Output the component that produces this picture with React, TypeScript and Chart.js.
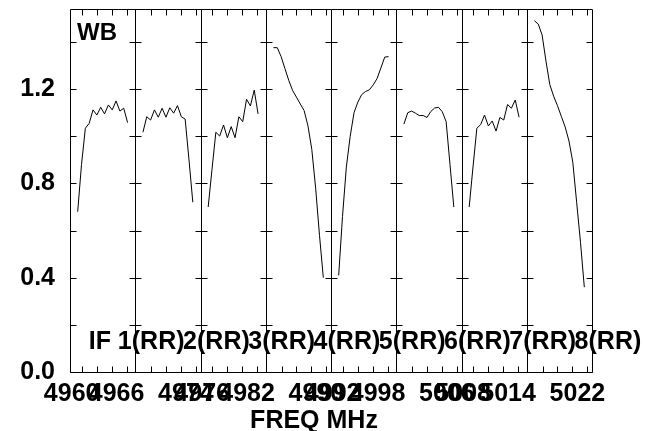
import React, { useEffect, useRef } from 'react';
import { Chart, registerables } from 'chart.js';

Chart.register(...registerables);

// ---- text ----
const SOURCE_NAME = 'WB';
const X_TITLE = 'FREQ MHz';
const STOKES = 'RR';
const IF_NAMES = ['1', '2', '3', '4', '5', '6', '7', '8'];

// ---- amplitude per plotted channel (channels 2..15) for each IF ----
const IF1_AMP = [0.68, 0.88, 1.034, 1.055, 1.112, 1.09, 1.123, 1.095, 1.133, 1.112, 1.15, 1.107, 1.119, 1.058];
const IF2_AMP = [1.017, 1.083, 1.069, 1.112, 1.081, 1.119, 1.081, 1.121, 1.098, 1.13, 1.083, 1.073, 0.9, 0.72];
const IF3_AMP = [0.7, 0.86, 1.017, 1.001, 1.048, 0.994, 1.041, 0.994, 1.083, 1.062, 1.157, 1.129, 1.196, 1.095];
const IF4_AMP = [1.376, 1.376, 1.338, 1.287, 1.237, 1.194, 1.166, 1.137, 1.109, 1.044, 0.944, 0.78, 0.58, 0.4];
const IF5_AMP = [0.41, 0.66, 0.87, 1.0, 1.1, 1.145, 1.177, 1.19, 1.197, 1.218, 1.245, 1.29, 1.336, 1.338];
const IF6_AMP = [1.052, 1.1, 1.107, 1.098, 1.088, 1.088, 1.08, 1.105, 1.12, 1.123, 1.104, 1.062, 0.88, 0.7];
const IF7_AMP = [0.7, 0.87, 1.034, 1.05, 1.09, 1.044, 1.065, 1.022, 1.08, 1.069, 1.135, 1.119, 1.154, 1.081];
const IF8_AMP = [1.49, 1.476, 1.43, 1.32, 1.22, 1.17, 1.13, 1.085, 1.04, 0.98, 0.89, 0.72, 0.55, 0.36];
const IF_AMPS = [IF1_AMP, IF2_AMP, IF3_AMP, IF4_AMP, IF5_AMP, IF6_AMP, IF7_AMP, IF8_AMP];

// ---- frequency axis ----
const FIRST_CHANNEL = 2;          // first plotted channel in every IF
const CHANNELS_PER_PANEL = 17;    // channel slots shown per IF panel
const CHANNEL_MHZ = 0.5128;       // channel separation
const IF_FIRST_CHAN_MHZ = [4959.47, 4966.92, 4975.47, 4982.92, 4991.47, 4998.92, 5007.47, 5014.92];
const IF_TICK_MHZ = [
  [4960, 4962, 4964, 4966],
  [4968, 4970, 4972, 4974],
  [4976, 4978, 4980, 4982],
  [4984, 4986, 4988, 4990],
  [4992, 4994, 4996, 4998],
  [5000, 5002, 5004, 5006],
  [5008, 5010, 5012, 5014],
  [5016, 5018, 5020, 5022],
];
const IF_LABEL_MHZ = [[4960, 4966], [4974], [4976, 4982], [4990], [4992, 4998], [5006], [5008, 5014], [5022]];

// ---- amplitude axis ----
const Y_MIN = 0;
const Y_MAX = 1.54;
const Y_TICKS = [0, 0.2, 0.4, 0.6, 0.8, 1.0, 1.2, 1.4];
const Y_LABELED = [0, 0.4, 0.8, 1.2];

const FONT_FAMILY = '"Liberation Sans", Arial, Helvetica, sans-serif';

function freqToX(ifIndex: number, mhz: number): number {
  return ifIndex * CHANNELS_PER_PANEL + FIRST_CHANNEL + (mhz - IF_FIRST_CHAN_MHZ[ifIndex]) / CHANNEL_MHZ;
}

const LABEL_TICKS: { value: number; text: string }[] = [];
IF_LABEL_MHZ.forEach((list, k) => list.forEach((f) => LABEL_TICKS.push({ value: freqToX(k, f), text: String(f) })));
LABEL_TICKS.sort((a, b) => a.value - b.value);

const overlayPlugin = {
  id: 'possmOverlay',
  afterDraw(chart: any) {
    const { ctx, chartArea: a, scales } = chart;
    const xs = scales.x;
    const ys = scales.y;
    const snap = (v: number) => Math.round(v) + 0.5;
    const nPanels = IF_AMPS.length;
    const yTick = 6;
    const xTick = 6;

    ctx.save();
    ctx.strokeStyle = '#000';
    ctx.lineWidth = 1;
    ctx.beginPath();
    const L = snap(a.left), R = snap(a.right), T = snap(a.top), B = snap(a.bottom);
    ctx.moveTo(L, T); ctx.lineTo(R, T); ctx.lineTo(R, B); ctx.lineTo(L, B); ctx.closePath();
    for (let k = 1; k < nPanels; k++) {
      const bx = snap(xs.getPixelForValue(k * CHANNELS_PER_PANEL));
      ctx.moveTo(bx, T); ctx.lineTo(bx, B);
    }
    for (const v of Y_TICKS) {
      const y = snap(ys.getPixelForValue(v));
      for (let k = 0; k <= nPanels; k++) {
        const bx = snap(xs.getPixelForValue(k * CHANNELS_PER_PANEL));
        const l = k === 0 ? 0 : yTick;
        const r = k === nPanels ? 0 : yTick;
        ctx.moveTo(bx - l, y); ctx.lineTo(bx + r, y);
      }
    }
    IF_TICK_MHZ.forEach((list, k) => list.forEach((f) => {
      const x = snap(xs.getPixelForValue(freqToX(k, f)));
      ctx.moveTo(x, T); ctx.lineTo(x, T + xTick);
      ctx.moveTo(x, B); ctx.lineTo(x, B - xTick);
    }));
    ctx.stroke();

    ctx.fillStyle = '#000';
    ctx.font = `bold 24px ${FONT_FAMILY}`;
    ctx.textBaseline = 'alphabetic';
    ctx.textAlign = 'left';
    ctx.fillText(SOURCE_NAME, a.left + 7, a.top + 31);

    const ifBase = a.bottom - 23;
    ctx.font = `bold 25px ${FONT_FAMILY}`;
    for (let k = 0; k < nPanels; k++) {
      const bx = xs.getPixelForValue((k + 1) * CHANNELS_PER_PANEL) - 3.5;
      ctx.textAlign = 'right';
      ctx.fillText(k === 0 ? `IF ${IF_NAMES[k]}` : IF_NAMES[k], bx, ifBase);
      ctx.textAlign = 'left';
      ctx.fillText(`(${STOKES})`, bx, ifBase);
    }

    ctx.textAlign = 'center';
    ctx.fillText(X_TITLE, (a.left + a.right) / 2 - 17, chart.height - 3);
    ctx.restore();
  },
};

export default function App() {
  const canvasRef = useRef<HTMLCanvasElement | null>(null);

  useEffect(() => {
    const canvas = canvasRef.current;
    if (!canvas) return;
    const datasets = IF_AMPS.map((amps, k) => ({
      label: `IF ${IF_NAMES[k]}`,
      data: amps.map((v, i) => ({ x: k * CHANNELS_PER_PANEL + FIRST_CHANNEL + i, y: v })),
      borderColor: '#000',
      borderWidth: 1,
      pointRadius: 0,
      tension: 0,
      fill: false,
    }));

    const chart = new Chart(canvas, {
      type: 'line',
      data: { datasets },
      options: {
        responsive: false,
        animation: false,
        devicePixelRatio: 1,
        layout: { padding: { left: 0, right: 55, top: 9, bottom: 0 } },
        plugins: { legend: { display: false }, tooltip: { enabled: false }, title: { display: false } },
        scales: {
          x: {
            type: 'linear',
            min: 0,
            max: CHANNELS_PER_PANEL * IF_AMPS.length,
            grid: { display: false, drawTicks: false },
            border: { display: false },
            afterBuildTicks: (scale: any) => {
              scale.ticks = LABEL_TICKS.map((t) => ({ value: t.value }));
            },
            afterFit: (scale: any) => {
              scale.height = 59;
              scale.paddingLeft = 0;
              scale.paddingRight = 0;
            },
            ticks: {
              autoSkip: false,
              maxRotation: 0,
              minRotation: 0,
              padding: 7,
              labelOffset: -10,
              color: '#000',
              font: { family: FONT_FAMILY, size: 25, weight: 'bold' },
              callback: (_v: any, i: number) => LABEL_TICKS[i] ? LABEL_TICKS[i].text : '',
            },
          },
          y: {
            type: 'linear',
            min: Y_MIN,
            max: Y_MAX,
            grid: { display: false, drawTicks: false },
            border: { display: false },
            afterBuildTicks: (scale: any) => {
              scale.ticks = Y_TICKS.map((v) => ({ value: v }));
            },
            afterFit: (scale: any) => {
              scale.width = 70;
              scale.paddingTop = 0;
              scale.paddingBottom = 0;
            },
            ticks: {
              padding: 15,
              autoSkip: false,
              color: '#000',
              font: { family: FONT_FAMILY, size: 25, weight: 'bold' },
              callback: (v: any) => (Y_LABELED.some((t) => Math.abs(t - Number(v)) < 1e-6) ? Number(v).toFixed(1) : ''),
            },
          },
        },
      },
      plugins: [overlayPlugin],
    } as any);
    return () => chart.destroy();
  }, []);

  return (
    <canvas
      ref={canvasRef}
      width={647}
      height={431}
      style={{ position: 'fixed', left: 0, top: 0, width: 647, height: 431, display: 'block', background: '#fff' }}
    />
  );
}
